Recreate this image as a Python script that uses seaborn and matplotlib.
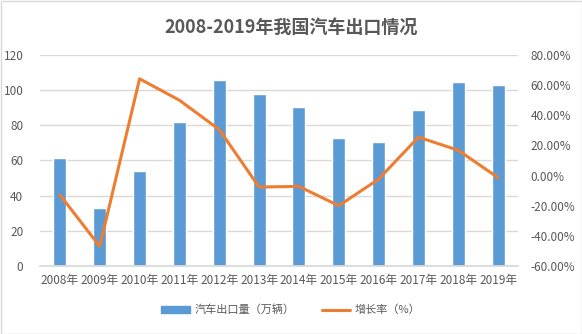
import matplotlib
matplotlib.use("Agg")
import matplotlib.pyplot as plt
import seaborn as sns
import pandas as pd
from matplotlib.patches import Rectangle
from matplotlib.lines import Line2D
from matplotlib.ticker import FuncFormatter, MultipleLocator

years = ["2008年", "2009年", "2010年", "2011年", "2012年", "2013年",
         "2014年", "2015年", "2016年", "2017年", "2018年", "2019年"]
exports = [61.3, 32.9, 54.3, 81.7, 105.7, 97.7, 90.5, 72.8, 70.8, 89.0, 104.6, 102.9]
growth = [-12.8, -47.0, 64.2, 50.0, 30.5, -7.6, -7.2, -20.0, -2.4, 25.5, 16.8, -1.4]

title = "2008-2019年我国汽车出口情况"
bar_label = "汽车出口量（万辆）"
line_label = "增长率（%）"

sns.set_theme(style="white")
plt.rcParams["font.family"] = ["Noto Sans CJK SC", "DejaVu Sans"]

df = pd.DataFrame({"year": years, "exports": exports, "growth": growth})

fig = plt.figure(figsize=(5.82, 3.34), dpi=100)
ax = fig.add_axes([40/582, 1-266/334, 478/582, 211/334])
txt = "#595959"
grid = "#D9D9D9"

sns.barplot(data=df, x="year", y="exports", color="#5B9BD5", saturation=1,
            width=0.33, ax=ax, zorder=2)
ax.set_ylim(0, 120)
ax.yaxis.set_major_locator(MultipleLocator(20))
ax.grid(axis="y", color=grid, linewidth=1, zorder=0)
ax.set_axisbelow(True)
ax.set_xlabel("")
ax.set_ylabel("")
for s in ax.spines.values():
    s.set_visible(False)
ax.spines["bottom"].set_visible(True)
ax.spines["bottom"].set_color(grid)
ax.tick_params(axis="both", length=0, colors=txt, labelsize=8.5)
ax.tick_params(axis="y", pad=12)
ax.tick_params(axis="x", pad=6)
ax.set_xlim(-0.5, len(years) - 0.5)

ax2 = ax.twinx()
sns.lineplot(data=df, x="year", y="growth", color="#ED7D31", linewidth=2.2,
             ax=ax2, sort=False)
ax2.set_ylim(-60, 80)
ax2.yaxis.set_major_locator(MultipleLocator(20))
ax2.yaxis.set_major_formatter(FuncFormatter(lambda v, p: f"{v:.2f}%"))
ax2.set_ylabel("")
ax2.set_xlabel("")
for s in ax2.spines.values():
    s.set_visible(False)
ax2.tick_params(axis="y", length=0, colors=txt, labelsize=8.5, pad=9)
ax2.set_xlim(-0.5, len(years) - 0.5)

fig.text(0.5, 1-27/334, title, ha="center", va="center", fontsize=13,
         fontweight="bold", color=txt)

handles = [Rectangle((0, 0), 1, 1, color="#5B9BD5"),
           Line2D([0], [0], color="#ED7D31", linewidth=2.2)]
fig.legend(handles, [bar_label, line_label], loc="center",
           bbox_to_anchor=(0.5, 1-310/334), ncol=2, frameon=False,
           fontsize=8, labelcolor=txt, handlelength=2.6, handleheight=0.5,
           columnspacing=2.4, handletextpad=0.4)

fig.add_artist(Rectangle((0.5/582, 0.5/334), 1-1/582, 1-1/334,
                         transform=fig.transFigure, fill=False,
                         edgecolor="#D9D9D9", linewidth=1))

fig.savefig("out.png", dpi=100)
